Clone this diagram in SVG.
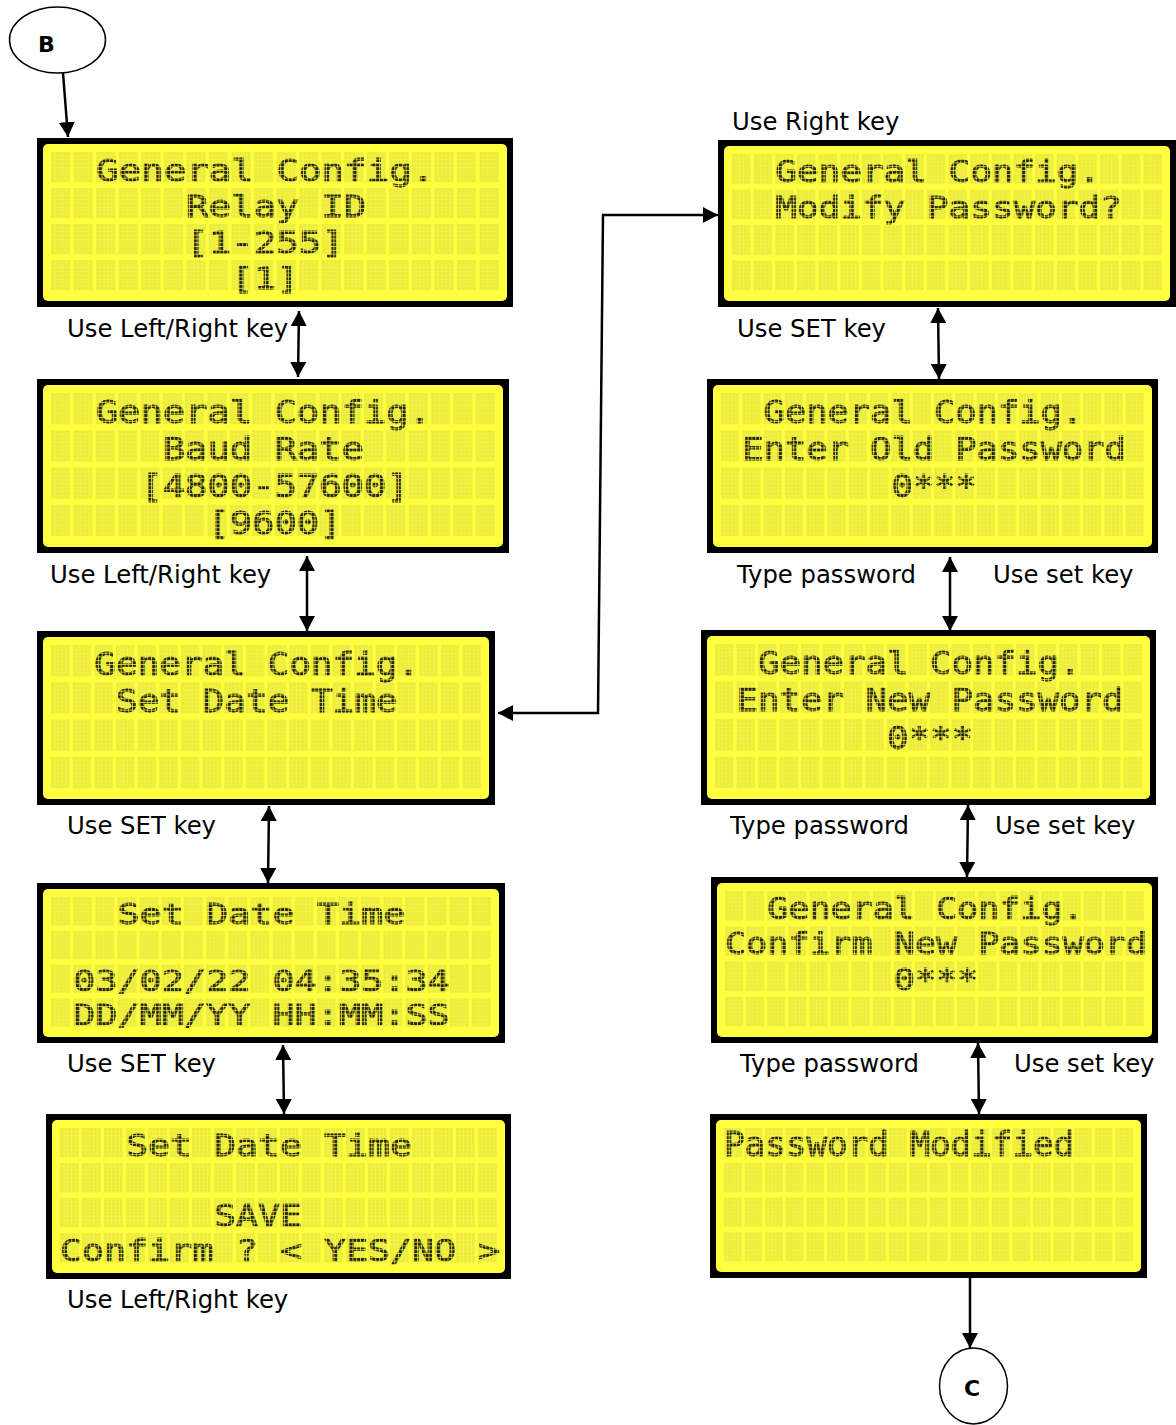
<svg xmlns="http://www.w3.org/2000/svg" width="1176" height="1425" viewBox="0 0 1176 1425">
<style>
.lbl{font-family:"DejaVu Sans",Verdana,sans-serif;font-size:24.3px;fill:#000}
.node-lbl{font-family:"DejaVu Sans",Verdana,sans-serif;font-size:22px;font-weight:bold;fill:#000}
.lcd{font-family:"DejaVu Sans Mono","Liberation Mono",monospace;fill:url(#dots);stroke:url(#dots);stroke-width:0.9}
.bezel{fill:#000}
.screen{fill:#ffff40}
.grid{fill:url(#cells)}
.conn{stroke:#000;stroke-width:2.5;fill:none}
.term{fill:#fff;stroke:#000;stroke-width:1.5}
</style>
<defs>
<pattern id="dots" patternUnits="userSpaceOnUse" width="3.8" height="3.8">
<rect width="3" height="3" fill="#25250f"/>
</pattern>
<pattern id="cells" patternUnits="objectBoundingBox" width="0.05" height="0.25" patternContentUnits="objectBoundingBox">
<rect width="0.0425" height="0.21" fill="#ecec3c"/>
<rect x="0.0085" width="0.0012" height="0.21" fill="#f8f850"/>
<rect x="0.017" width="0.0012" height="0.21" fill="#f8f850"/>
<rect x="0.0255" width="0.0012" height="0.21" fill="#f8f850"/>
<rect x="0.034" width="0.0012" height="0.21" fill="#f8f850"/>
<rect y="0.02625" width="0.0425" height="0.003" fill="#f8f850"/>
<rect y="0.0525" width="0.0425" height="0.003" fill="#f8f850"/>
<rect y="0.07875" width="0.0425" height="0.003" fill="#f8f850"/>
<rect y="0.105" width="0.0425" height="0.003" fill="#f8f850"/>
<rect y="0.13125" width="0.0425" height="0.003" fill="#f8f850"/>
<rect y="0.1575" width="0.0425" height="0.003" fill="#f8f850"/>
<rect y="0.18375" width="0.0425" height="0.003" fill="#f8f850"/>
</pattern>
<marker id="ah" viewBox="0 0 15 16" refX="15" refY="8" markerWidth="15" markerHeight="16" markerUnits="userSpaceOnUse" orient="auto-start-reverse">
<path d="M0,0 L15,8 L0,16 z" fill="#000"/>
</marker>
</defs>

<g id="connectors">
<path class="conn" d="M63,73 L68,137" marker-end="url(#ah)"/>
<path class="conn" d="M299,311 L298,377" marker-start="url(#ah)" marker-end="url(#ah)"/>
<path class="conn" d="M307,556 L307,631" marker-start="url(#ah)" marker-end="url(#ah)"/>
<path class="conn" d="M269,806 L268,883" marker-start="url(#ah)" marker-end="url(#ah)"/>
<path class="conn" d="M283,1045 L284,1114" marker-start="url(#ah)" marker-end="url(#ah)"/>
<path class="conn" d="M718,215 L603,215 L598,713 L498,713" marker-start="url(#ah)" marker-end="url(#ah)"/>
<path class="conn" d="M938,308 L939,379" marker-start="url(#ah)" marker-end="url(#ah)"/>
<path class="conn" d="M950,557 L950,631" marker-start="url(#ah)" marker-end="url(#ah)"/>
<path class="conn" d="M968,805 L967,877" marker-start="url(#ah)" marker-end="url(#ah)"/>
<path class="conn" d="M978,1043 L979,1114" marker-start="url(#ah)" marker-end="url(#ah)"/>
<path class="conn" d="M970,1278 L970,1348" marker-end="url(#ah)"/>
</g>

<g id="node-B">
<ellipse class="term" cx="57.5" cy="40" rx="48" ry="33"/>
<text class="node-lbl" x="38" y="52">B</text>
</g>

<g id="node-C">
<ellipse class="term" cx="973.5" cy="1386" rx="34" ry="38"/>
<text class="node-lbl" x="972" y="1396" text-anchor="middle">C</text>
</g>

<g id="lcd-relay-id">
<rect class="bezel" x="37" y="138" width="476" height="169"/>
<rect class="screen" x="43" y="144" width="464" height="157" rx="5"/>
<rect class="grid" x="51" y="152" width="451" height="144"/>
<g class="lcd" font-size="30.5">
<text x="96" y="180.7" textLength="338.3" lengthAdjust="spacingAndGlyphs">General Config.</text>
<text x="186" y="216.7" textLength="180.4" lengthAdjust="spacingAndGlyphs">Relay ID</text>
<text x="186" y="252.7" textLength="157.9" lengthAdjust="spacingAndGlyphs">[1-255]</text>
<text x="231" y="288.7" textLength="67.7" lengthAdjust="spacingAndGlyphs">[1]</text>
</g>
</g>

<g id="lcd-baud-rate">
<rect class="bezel" x="37" y="379" width="472" height="174"/>
<rect class="screen" x="43" y="385" width="460" height="162" rx="5"/>
<rect class="grid" x="51" y="393" width="447" height="149"/>
<g class="lcd" font-size="31.5">
<text x="95.7" y="422.6" textLength="335.3" lengthAdjust="spacingAndGlyphs">General Config.</text>
<text x="162.7" y="459.85" textLength="201.2" lengthAdjust="spacingAndGlyphs">Baud Rate</text>
<text x="140.4" y="497.1" textLength="268.2" lengthAdjust="spacingAndGlyphs">[4800-57600]</text>
<text x="207.4" y="534.35" textLength="134.1" lengthAdjust="spacingAndGlyphs">[9600]</text>
</g>
</g>

<g id="lcd-set-date-time">
<rect class="bezel" x="37" y="631" width="458" height="174"/>
<rect class="screen" x="43" y="637" width="446" height="162" rx="5"/>
<rect class="grid" x="51" y="645" width="433" height="149"/>
<g class="lcd" font-size="31.5">
<text x="94.3" y="674.6" textLength="324.8" lengthAdjust="spacingAndGlyphs">General Config.</text>
<text x="116" y="711.85" textLength="281.5" lengthAdjust="spacingAndGlyphs">Set Date Time</text>
</g>
</g>

<g id="lcd-date-time-edit">
<rect class="bezel" x="37" y="883" width="468" height="160"/>
<rect class="screen" x="43" y="889" width="456" height="148" rx="5"/>
<rect class="grid" x="51" y="897" width="443" height="135"/>
<g class="lcd" font-size="28.5">
<text x="117.4" y="923.8" textLength="288" lengthAdjust="spacingAndGlyphs">Set Date Time</text>
<text x="73.1" y="991.3" textLength="376.6" lengthAdjust="spacingAndGlyphs">03/02/22 04:35:34</text>
<text x="73.1" y="1025" textLength="376.6" lengthAdjust="spacingAndGlyphs">DD/MM/YY HH:MM:SS</text>
</g>
</g>

<g id="lcd-save">
<rect class="bezel" x="46" y="1114" width="465" height="165"/>
<rect class="screen" x="52" y="1120" width="453" height="153" rx="5"/>
<rect class="grid" x="60" y="1128" width="440" height="140"/>
<g class="lcd" font-size="29.5">
<text x="126" y="1155.7" textLength="286" lengthAdjust="spacingAndGlyphs">Set Date Time</text>
<text x="214" y="1225.7" textLength="88" lengthAdjust="spacingAndGlyphs">SAVE</text>
<text x="60" y="1260.7" textLength="440" lengthAdjust="spacingAndGlyphs">Confirm ? &lt; YES/NO &gt;</text>
</g>
</g>

<g id="lcd-modify-password">
<rect class="bezel" x="718" y="140" width="458" height="167"/>
<rect class="screen" x="724" y="146" width="446" height="155" rx="5"/>
<rect class="grid" x="732" y="154" width="433" height="142"/>
<g class="lcd" font-size="30">
<text x="775.3" y="182.2" textLength="324.8" lengthAdjust="spacingAndGlyphs">General Config.</text>
<text x="775.3" y="217.7" textLength="346.4" lengthAdjust="spacingAndGlyphs">Modify Password?</text>
</g>
</g>

<g id="lcd-old-password">
<rect class="bezel" x="707" y="379" width="451" height="174"/>
<rect class="screen" x="713" y="385" width="439" height="162" rx="5"/>
<rect class="grid" x="721" y="393" width="426" height="149"/>
<g class="lcd" font-size="31.5">
<text x="763.6" y="422.6" textLength="319.5" lengthAdjust="spacingAndGlyphs">General Config.</text>
<text x="742.3" y="459.85" textLength="383.4" lengthAdjust="spacingAndGlyphs">Enter Old Password</text>
<text x="891.4" y="497.1" textLength="85.2" lengthAdjust="spacingAndGlyphs">0***</text>
</g>
</g>

<g id="lcd-new-password">
<rect class="bezel" x="701" y="630" width="455" height="175"/>
<rect class="screen" x="707" y="636" width="443" height="163" rx="5"/>
<rect class="grid" x="715" y="644" width="430" height="150"/>
<g class="lcd" font-size="31.8">
<text x="758" y="673.9" textLength="322.5" lengthAdjust="spacingAndGlyphs">General Config.</text>
<text x="736.5" y="711.4" textLength="387" lengthAdjust="spacingAndGlyphs">Enter New Password</text>
<text x="887" y="748.9" textLength="86" lengthAdjust="spacingAndGlyphs">0***</text>
</g>
</g>

<g id="lcd-confirm-password">
<rect class="bezel" x="711" y="877" width="447" height="166"/>
<rect class="screen" x="717" y="883" width="435" height="154" rx="5"/>
<rect class="grid" x="725" y="891" width="422" height="141"/>
<g class="lcd" font-size="30">
<text x="767.2" y="919.2" textLength="316.5" lengthAdjust="spacingAndGlyphs">General Config.</text>
<text x="725" y="954.45" textLength="422" lengthAdjust="spacingAndGlyphs">Confirm New Password</text>
<text x="893.8" y="989.7" textLength="84.4" lengthAdjust="spacingAndGlyphs">0***</text>
</g>
</g>

<g id="lcd-password-modified">
<rect class="bezel" x="710" y="1114" width="437" height="164"/>
<rect class="screen" x="716" y="1120" width="425" height="152" rx="5"/>
<rect class="grid" x="724" y="1128" width="412" height="139"/>
<g class="lcd" font-size="34.2">
<text x="724" y="1156" textLength="350.2" lengthAdjust="spacingAndGlyphs">Password Modified</text>
</g>
</g>

<g id="labels">
<text class="lbl" x="67" y="337">Use Left/Right key</text>
<text class="lbl" x="50" y="583">Use Left/Right key</text>
<text class="lbl" x="67" y="834">Use SET key</text>
<text class="lbl" x="67" y="1072">Use SET key</text>
<text class="lbl" x="67" y="1308">Use Left/Right key</text>
<text class="lbl" x="732" y="130">Use Right key</text>
<text class="lbl" x="737" y="337">Use SET key</text>
<text class="lbl" x="737" y="583">Type password</text>
<text class="lbl" x="993" y="583">Use set key</text>
<text class="lbl" x="730" y="834">Type password</text>
<text class="lbl" x="995" y="834">Use set key</text>
<text class="lbl" x="740" y="1072">Type password</text>
<text class="lbl" x="1014" y="1072">Use set key</text>
</g>
</svg>
